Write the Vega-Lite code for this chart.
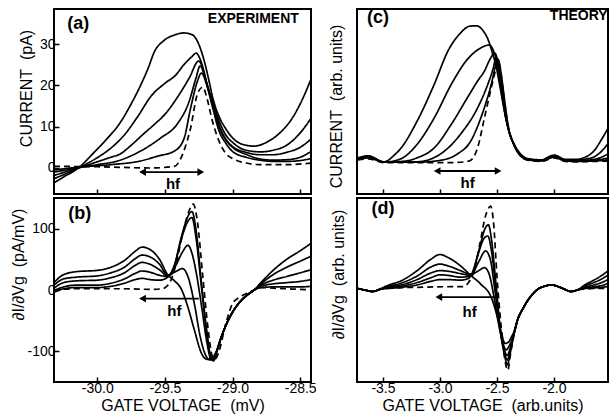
{
 "$schema": "https://vega.github.io/schema/vega-lite/v6.json",
 "background": "white",
 "padding": {"left": 8, "top": 7, "right": 0, "bottom": 2},
 "bounds": "flush",
 "columns": 2,
 "spacing": {"row": 4, "column": 46},
 "config": {
  "font": "Liberation Sans",
  "view": {"stroke": "black", "strokeWidth": 2},
  "axis": {"domain": false, "grid": false, "tickColor": "black", "tickSize": -5, "tickWidth": 1.5, "labelFont": "Liberation Sans", "labelFontSize": 14, "labelColor": "black", "labelPadding": 4, "titleFont": "Liberation Sans", "titleFontSize": 16, "titleFontWeight": "normal", "titleColor": "black", "titlePadding": 3}
 },
 "datasets": {
  "curves": [
   {"p":"a","c":"1","x":-30.32,"y":-3.6},{"p":"a","c":"1","x":-30.25,"y":-2.2},{"p":"a","c":"1","x":-30.14,"y":0},{"p":"a","c":"1","x":-30.02,"y":3.9},{"p":"a","c":"1","x":-29.93,"y":7},{"p":"a","c":"1","x":-29.83,"y":11},{"p":"a","c":"1","x":-29.75,"y":15.5},{"p":"a","c":"1","x":-29.68,"y":20},{"p":"a","c":"1","x":-29.62,"y":24.5},{"p":"a","c":"1","x":-29.58,"y":28},{"p":"a","c":"1","x":-29.51,"y":30.8},{"p":"a","c":"1","x":-29.43,"y":32.2},{"p":"a","c":"1","x":-29.36,"y":32.7},{"p":"a","c":"1","x":-29.3,"y":32.3},{"p":"a","c":"1","x":-29.25,"y":30},{"p":"a","c":"1","x":-29.21,"y":26},{"p":"a","c":"1","x":-29.17,"y":20.5},{"p":"a","c":"1","x":-29.15,"y":17.5},{"p":"a","c":"1","x":-29.1,"y":12.5},{"p":"a","c":"1","x":-29.05,"y":9.5},{"p":"a","c":"1","x":-29.0,"y":7.3},{"p":"a","c":"1","x":-28.9,"y":5.5},{"p":"a","c":"1","x":-28.84,"y":5.3},{"p":"a","c":"1","x":-28.75,"y":6.2},{"p":"a","c":"1","x":-28.65,"y":8.5},{"p":"a","c":"1","x":-28.56,"y":12},{"p":"a","c":"1","x":-28.5,"y":15.5},{"p":"a","c":"1","x":-28.42,"y":21.5},
   {"p":"a","c":"2","x":-30.32,"y":-2.6},{"p":"a","c":"2","x":-30.14,"y":0},{"p":"a","c":"2","x":-30.0,"y":2.5},{"p":"a","c":"2","x":-29.9,"y":4.8},{"p":"a","c":"2","x":-29.8,"y":8},{"p":"a","c":"2","x":-29.7,"y":12.5},{"p":"a","c":"2","x":-29.6,"y":17.5},{"p":"a","c":"2","x":-29.5,"y":20.5},{"p":"a","c":"2","x":-29.42,"y":22.5},{"p":"a","c":"2","x":-29.36,"y":25},{"p":"a","c":"2","x":-29.3,"y":27},{"p":"a","c":"2","x":-29.27,"y":27.8},{"p":"a","c":"2","x":-29.23,"y":25.5},{"p":"a","c":"2","x":-29.19,"y":20.5},{"p":"a","c":"2","x":-29.15,"y":16.5},{"p":"a","c":"2","x":-29.1,"y":11.5},{"p":"a","c":"2","x":-29.05,"y":8},{"p":"a","c":"2","x":-29.0,"y":6.2},{"p":"a","c":"2","x":-28.9,"y":4.3},{"p":"a","c":"2","x":-28.79,"y":3.9},{"p":"a","c":"2","x":-28.7,"y":4.3},{"p":"a","c":"2","x":-28.6,"y":5.5},{"p":"a","c":"2","x":-28.5,"y":8.5},{"p":"a","c":"2","x":-28.42,"y":12},
   {"p":"a","c":"3","x":-30.32,"y":-1.8},{"p":"a","c":"3","x":-30.14,"y":0},{"p":"a","c":"3","x":-30.0,"y":1.5},{"p":"a","c":"3","x":-29.9,"y":2.6},{"p":"a","c":"3","x":-29.83,"y":3.4},{"p":"a","c":"3","x":-29.75,"y":5.5},{"p":"a","c":"3","x":-29.66,"y":8.2},{"p":"a","c":"3","x":-29.58,"y":10.5},{"p":"a","c":"3","x":-29.5,"y":13},{"p":"a","c":"3","x":-29.41,"y":17},{"p":"a","c":"3","x":-29.32,"y":21.8},{"p":"a","c":"3","x":-29.25,"y":25.9},{"p":"a","c":"3","x":-29.21,"y":23},{"p":"a","c":"3","x":-29.18,"y":19},{"p":"a","c":"3","x":-29.15,"y":16},{"p":"a","c":"3","x":-29.1,"y":10.5},{"p":"a","c":"3","x":-29.05,"y":7},{"p":"a","c":"3","x":-29.0,"y":5.2},{"p":"a","c":"3","x":-28.9,"y":3.8},{"p":"a","c":"3","x":-28.8,"y":3.2},{"p":"a","c":"3","x":-28.7,"y":3.2},{"p":"a","c":"3","x":-28.6,"y":3.8},{"p":"a","c":"3","x":-28.5,"y":5},{"p":"a","c":"3","x":-28.42,"y":7},
   {"p":"a","c":"4","x":-30.32,"y":-1},{"p":"a","c":"4","x":-30.2,"y":-0.3},{"p":"a","c":"4","x":-30.1,"y":0.3},{"p":"a","c":"4","x":-30.0,"y":0.8},{"p":"a","c":"4","x":-29.85,"y":1.7},{"p":"a","c":"4","x":-29.68,"y":4.1},{"p":"a","c":"4","x":-29.53,"y":7.3},{"p":"a","c":"4","x":-29.41,"y":10.6},{"p":"a","c":"4","x":-29.32,"y":16.2},{"p":"a","c":"4","x":-29.27,"y":21.8},{"p":"a","c":"4","x":-29.24,"y":24.7},{"p":"a","c":"4","x":-29.2,"y":21.5},{"p":"a","c":"4","x":-29.15,"y":15.5},{"p":"a","c":"4","x":-29.1,"y":10},{"p":"a","c":"4","x":-29.05,"y":6.8},{"p":"a","c":"4","x":-29.0,"y":5},{"p":"a","c":"4","x":-28.9,"y":3.3},{"p":"a","c":"4","x":-28.8,"y":2.2},{"p":"a","c":"4","x":-28.7,"y":1.9},{"p":"a","c":"4","x":-28.6,"y":2},{"p":"a","c":"4","x":-28.5,"y":2.6},{"p":"a","c":"4","x":-28.42,"y":4},
   {"p":"a","c":"5","x":-30.32,"y":-0.5},{"p":"a","c":"5","x":-30.14,"y":0.2},{"p":"a","c":"5","x":-29.9,"y":0.8},{"p":"a","c":"5","x":-29.68,"y":1.7},{"p":"a","c":"5","x":-29.55,"y":2.9},{"p":"a","c":"5","x":-29.43,"y":4.1},{"p":"a","c":"5","x":-29.36,"y":7},{"p":"a","c":"5","x":-29.31,"y":14.5},{"p":"a","c":"5","x":-29.26,"y":21},{"p":"a","c":"5","x":-29.23,"y":23},{"p":"a","c":"5","x":-29.19,"y":20},{"p":"a","c":"5","x":-29.15,"y":15},{"p":"a","c":"5","x":-29.1,"y":9},{"p":"a","c":"5","x":-29.05,"y":6},{"p":"a","c":"5","x":-29.0,"y":4},{"p":"a","c":"5","x":-28.9,"y":2.6},{"p":"a","c":"5","x":-28.8,"y":1.9},{"p":"a","c":"5","x":-28.7,"y":1.6},{"p":"a","c":"5","x":-28.6,"y":1.6},{"p":"a","c":"5","x":-28.5,"y":1.8},{"p":"a","c":"5","x":-28.42,"y":2.3},
   {"p":"a","c":"0","x":-30.32,"y":0.4},{"p":"a","c":"0","x":-30.0,"y":0.3},{"p":"a","c":"0","x":-29.6,"y":0},{"p":"a","c":"0","x":-29.43,"y":0.4},{"p":"a","c":"0","x":-29.36,"y":4.1},{"p":"a","c":"0","x":-29.31,"y":9.7},{"p":"a","c":"0","x":-29.26,"y":17.9},{"p":"a","c":"0","x":-29.22,"y":19.6},{"p":"a","c":"0","x":-29.19,"y":17},{"p":"a","c":"0","x":-29.15,"y":11.5},{"p":"a","c":"0","x":-29.1,"y":6.5},{"p":"a","c":"0","x":-29.05,"y":3.5},{"p":"a","c":"0","x":-29.0,"y":2.3},{"p":"a","c":"0","x":-28.9,"y":1.2},{"p":"a","c":"0","x":-28.8,"y":0.8},{"p":"a","c":"0","x":-28.6,"y":0.8},{"p":"a","c":"0","x":-28.42,"y":1.2},

   {"p":"b","c":"1","x":-30.32,"y":12},{"p":"b","c":"1","x":-30.25,"y":25},{"p":"b","c":"1","x":-30.15,"y":30},{"p":"b","c":"1","x":-30.0,"y":32},{"p":"b","c":"1","x":-29.9,"y":37},{"p":"b","c":"1","x":-29.8,"y":48},{"p":"b","c":"1","x":-29.72,"y":63},{"p":"b","c":"1","x":-29.67,"y":70},{"p":"b","c":"1","x":-29.61,"y":66},{"p":"b","c":"1","x":-29.54,"y":50},{"p":"b","c":"1","x":-29.48,"y":25},{"p":"b","c":"1","x":-29.43,"y":15},{"p":"b","c":"1","x":-29.38,"y":2},{"p":"b","c":"1","x":-29.33,"y":-28},{"p":"b","c":"1","x":-29.28,"y":-67},{"p":"b","c":"1","x":-29.23,"y":-103},{"p":"b","c":"1","x":-29.19,"y":-113},{"p":"b","c":"1","x":-29.15,"y":-110},{"p":"b","c":"1","x":-29.12,"y":-100},{"p":"b","c":"1","x":-29.085,"y":-78},{"p":"b","c":"1","x":-29.05,"y":-58},{"p":"b","c":"1","x":-29.01,"y":-40},{"p":"b","c":"1","x":-28.94,"y":-18},{"p":"b","c":"1","x":-28.89,"y":-8},{"p":"b","c":"1","x":-28.84,"y":0},{"p":"b","c":"1","x":-28.79,"y":12},{"p":"b","c":"1","x":-28.7,"y":32},{"p":"b","c":"1","x":-28.6,"y":50},{"p":"b","c":"1","x":-28.5,"y":64},{"p":"b","c":"1","x":-28.42,"y":76},
   {"p":"b","c":"2","x":-30.32,"y":8},{"p":"b","c":"2","x":-30.25,"y":18},{"p":"b","c":"2","x":-30.15,"y":21},{"p":"b","c":"2","x":-30.0,"y":23},{"p":"b","c":"2","x":-29.9,"y":28},{"p":"b","c":"2","x":-29.8,"y":37},{"p":"b","c":"2","x":-29.72,"y":51},{"p":"b","c":"2","x":-29.67,"y":57},{"p":"b","c":"2","x":-29.61,"y":54},{"p":"b","c":"2","x":-29.54,"y":42},{"p":"b","c":"2","x":-29.48,"y":24},{"p":"b","c":"2","x":-29.42,"y":30},{"p":"b","c":"2","x":-29.37,"y":35},{"p":"b","c":"2","x":-29.33,"y":22},{"p":"b","c":"2","x":-29.28,"y":-25},{"p":"b","c":"2","x":-29.24,"y":-75},{"p":"b","c":"2","x":-29.2,"y":-106},{"p":"b","c":"2","x":-29.17,"y":-114},{"p":"b","c":"2","x":-29.14,"y":-112},{"p":"b","c":"2","x":-29.12,"y":-101},{"p":"b","c":"2","x":-29.085,"y":-78},{"p":"b","c":"2","x":-29.05,"y":-58},{"p":"b","c":"2","x":-29.01,"y":-40},{"p":"b","c":"2","x":-28.94,"y":-18},{"p":"b","c":"2","x":-28.89,"y":-8},{"p":"b","c":"2","x":-28.84,"y":0},{"p":"b","c":"2","x":-28.79,"y":10},{"p":"b","c":"2","x":-28.7,"y":25},{"p":"b","c":"2","x":-28.6,"y":37},{"p":"b","c":"2","x":-28.5,"y":47},{"p":"b","c":"2","x":-28.42,"y":55},
   {"p":"b","c":"3","x":-30.32,"y":3},{"p":"b","c":"3","x":-30.25,"y":12},{"p":"b","c":"3","x":-30.15,"y":15},{"p":"b","c":"3","x":-30.0,"y":16},{"p":"b","c":"3","x":-29.9,"y":20},{"p":"b","c":"3","x":-29.8,"y":28},{"p":"b","c":"3","x":-29.72,"y":40},{"p":"b","c":"3","x":-29.67,"y":45},{"p":"b","c":"3","x":-29.61,"y":42},{"p":"b","c":"3","x":-29.54,"y":33},{"p":"b","c":"3","x":-29.48,"y":23},{"p":"b","c":"3","x":-29.42,"y":40},{"p":"b","c":"3","x":-29.37,"y":62},{"p":"b","c":"3","x":-29.33,"y":73},{"p":"b","c":"3","x":-29.3,"y":60},{"p":"b","c":"3","x":-29.27,"y":30},{"p":"b","c":"3","x":-29.23,"y":-25},{"p":"b","c":"3","x":-29.19,"y":-85},{"p":"b","c":"3","x":-29.16,"y":-113},{"p":"b","c":"3","x":-29.14,"y":-115},{"p":"b","c":"3","x":-29.12,"y":-102},{"p":"b","c":"3","x":-29.085,"y":-78},{"p":"b","c":"3","x":-29.05,"y":-58},{"p":"b","c":"3","x":-29.01,"y":-40},{"p":"b","c":"3","x":-28.94,"y":-18},{"p":"b","c":"3","x":-28.89,"y":-8},{"p":"b","c":"3","x":-28.84,"y":0},{"p":"b","c":"3","x":-28.79,"y":8},{"p":"b","c":"3","x":-28.7,"y":16},{"p":"b","c":"3","x":-28.6,"y":22},{"p":"b","c":"3","x":-28.5,"y":28},{"p":"b","c":"3","x":-28.42,"y":33},
   {"p":"b","c":"4","x":-30.32,"y":-1},{"p":"b","c":"4","x":-30.25,"y":5},{"p":"b","c":"4","x":-30.15,"y":8},{"p":"b","c":"4","x":-30.0,"y":8},{"p":"b","c":"4","x":-29.9,"y":11},{"p":"b","c":"4","x":-29.8,"y":18},{"p":"b","c":"4","x":-29.72,"y":27},{"p":"b","c":"4","x":-29.67,"y":31},{"p":"b","c":"4","x":-29.61,"y":29},{"p":"b","c":"4","x":-29.54,"y":24},{"p":"b","c":"4","x":-29.48,"y":22},{"p":"b","c":"4","x":-29.43,"y":40},{"p":"b","c":"4","x":-29.38,"y":82},{"p":"b","c":"4","x":-29.33,"y":112},{"p":"b","c":"4","x":-29.3,"y":118},{"p":"b","c":"4","x":-29.27,"y":85},{"p":"b","c":"4","x":-29.23,"y":5},{"p":"b","c":"4","x":-29.19,"y":-72},{"p":"b","c":"4","x":-29.16,"y":-110},{"p":"b","c":"4","x":-29.14,"y":-115},{"p":"b","c":"4","x":-29.12,"y":-103},{"p":"b","c":"4","x":-29.085,"y":-78},{"p":"b","c":"4","x":-29.05,"y":-58},{"p":"b","c":"4","x":-29.01,"y":-40},{"p":"b","c":"4","x":-28.94,"y":-18},{"p":"b","c":"4","x":-28.89,"y":-8},{"p":"b","c":"4","x":-28.84,"y":0},{"p":"b","c":"4","x":-28.79,"y":6},{"p":"b","c":"4","x":-28.7,"y":10},{"p":"b","c":"4","x":-28.6,"y":12},{"p":"b","c":"4","x":-28.5,"y":14},{"p":"b","c":"4","x":-28.42,"y":17},
   {"p":"b","c":"5","x":-30.32,"y":-4},{"p":"b","c":"5","x":-30.25,"y":2},{"p":"b","c":"5","x":-30.15,"y":4},{"p":"b","c":"5","x":-30.0,"y":4},{"p":"b","c":"5","x":-29.9,"y":6},{"p":"b","c":"5","x":-29.8,"y":11},{"p":"b","c":"5","x":-29.72,"y":17},{"p":"b","c":"5","x":-29.67,"y":19},{"p":"b","c":"5","x":-29.61,"y":17},{"p":"b","c":"5","x":-29.54,"y":16},{"p":"b","c":"5","x":-29.48,"y":21},{"p":"b","c":"5","x":-29.43,"y":40},{"p":"b","c":"5","x":-29.38,"y":85},{"p":"b","c":"5","x":-29.33,"y":120},{"p":"b","c":"5","x":-29.3,"y":128},{"p":"b","c":"5","x":-29.27,"y":98},{"p":"b","c":"5","x":-29.23,"y":12},{"p":"b","c":"5","x":-29.19,"y":-68},{"p":"b","c":"5","x":-29.16,"y":-110},{"p":"b","c":"5","x":-29.14,"y":-115},{"p":"b","c":"5","x":-29.12,"y":-103},{"p":"b","c":"5","x":-29.085,"y":-78},{"p":"b","c":"5","x":-29.05,"y":-58},{"p":"b","c":"5","x":-29.01,"y":-40},{"p":"b","c":"5","x":-28.94,"y":-18},{"p":"b","c":"5","x":-28.89,"y":-8},{"p":"b","c":"5","x":-28.84,"y":0},{"p":"b","c":"5","x":-28.79,"y":4},{"p":"b","c":"5","x":-28.7,"y":5},{"p":"b","c":"5","x":-28.6,"y":5},{"p":"b","c":"5","x":-28.5,"y":5},{"p":"b","c":"5","x":-28.42,"y":6},
   {"p":"b","c":"0","x":-30.32,"y":-2},{"p":"b","c":"0","x":-30.2,"y":2},{"p":"b","c":"0","x":-30.0,"y":2},{"p":"b","c":"0","x":-29.8,"y":2},{"p":"b","c":"0","x":-29.6,"y":1},{"p":"b","c":"0","x":-29.52,"y":2},{"p":"b","c":"0","x":-29.47,"y":10},{"p":"b","c":"0","x":-29.42,"y":40},{"p":"b","c":"0","x":-29.37,"y":90},{"p":"b","c":"0","x":-29.32,"y":130},{"p":"b","c":"0","x":-29.29,"y":140},{"p":"b","c":"0","x":-29.26,"y":112},{"p":"b","c":"0","x":-29.22,"y":22},{"p":"b","c":"0","x":-29.18,"y":-65},{"p":"b","c":"0","x":-29.15,"y":-108},{"p":"b","c":"0","x":-29.13,"y":-113},{"p":"b","c":"0","x":-29.1,"y":-100},{"p":"b","c":"0","x":-29.05,"y":-55},{"p":"b","c":"0","x":-29.0,"y":-22},{"p":"b","c":"0","x":-28.95,"y":-12},{"p":"b","c":"0","x":-28.89,"y":-5},{"p":"b","c":"0","x":-28.84,"y":0},{"p":"b","c":"0","x":-28.79,"y":4},{"p":"b","c":"0","x":-28.7,"y":3},{"p":"b","c":"0","x":-28.6,"y":2},{"p":"b","c":"0","x":-28.5,"y":1},{"p":"b","c":"0","x":-28.42,"y":0.5},

   {"p":"c","c":"1","x":-3.72,"y":0.8},{"p":"c","c":"1","x":-3.63,"y":1.3},{"p":"c","c":"1","x":-3.49,"y":-0.2},{"p":"c","c":"1","x":-3.4,"y":1.5},{"p":"c","c":"1","x":-3.34,"y":3.3},{"p":"c","c":"1","x":-3.2,"y":10},{"p":"c","c":"1","x":-3.05,"y":19.2},{"p":"c","c":"1","x":-2.93,"y":27.5},{"p":"c","c":"1","x":-2.82,"y":32},{"p":"c","c":"1","x":-2.74,"y":33.7},{"p":"c","c":"1","x":-2.68,"y":33.8},{"p":"c","c":"1","x":-2.62,"y":32.5},{"p":"c","c":"1","x":-2.58,"y":30.5},{"p":"c","c":"1","x":-2.54,"y":27},{"p":"c","c":"1","x":-2.51,"y":24},{"p":"c","c":"1","x":-2.47,"y":18},{"p":"c","c":"1","x":-2.44,"y":13.3},{"p":"c","c":"1","x":-2.4,"y":8},{"p":"c","c":"1","x":-2.35,"y":4.2},{"p":"c","c":"1","x":-2.3,"y":2},{"p":"c","c":"1","x":-2.23,"y":0.6},{"p":"c","c":"1","x":-2.11,"y":0.3},{"p":"c","c":"1","x":-2.0,"y":1.5},{"p":"c","c":"1","x":-1.9,"y":0.4},{"p":"c","c":"1","x":-1.8,"y":0.4},{"p":"c","c":"1","x":-1.74,"y":0.8},{"p":"c","c":"1","x":-1.65,"y":2.5},{"p":"c","c":"1","x":-1.58,"y":5.5},{"p":"c","c":"1","x":-1.51,"y":9},
   {"p":"c","c":"2","x":-3.72,"y":0.7},{"p":"c","c":"2","x":-3.63,"y":1.1},{"p":"c","c":"2","x":-3.49,"y":-0.3},{"p":"c","c":"2","x":-3.34,"y":0.6},{"p":"c","c":"2","x":-3.2,"y":4.2},{"p":"c","c":"2","x":-3.05,"y":10.8},{"p":"c","c":"2","x":-2.9,"y":19.2},{"p":"c","c":"2","x":-2.76,"y":25.4},{"p":"c","c":"2","x":-2.64,"y":28.3},{"p":"c","c":"2","x":-2.57,"y":29},{"p":"c","c":"2","x":-2.53,"y":27.5},{"p":"c","c":"2","x":-2.5,"y":24.5},{"p":"c","c":"2","x":-2.47,"y":19},{"p":"c","c":"2","x":-2.44,"y":13.5},{"p":"c","c":"2","x":-2.4,"y":8},{"p":"c","c":"2","x":-2.35,"y":4.2},{"p":"c","c":"2","x":-2.3,"y":1.8},{"p":"c","c":"2","x":-2.23,"y":0.5},{"p":"c","c":"2","x":-2.11,"y":0.2},{"p":"c","c":"2","x":-2.0,"y":1.2},{"p":"c","c":"2","x":-1.9,"y":0.3},{"p":"c","c":"2","x":-1.8,"y":0.2},{"p":"c","c":"2","x":-1.72,"y":0.5},{"p":"c","c":"2","x":-1.65,"y":1},{"p":"c","c":"2","x":-1.58,"y":2.5},{"p":"c","c":"2","x":-1.51,"y":5},
   {"p":"c","c":"3","x":-3.72,"y":0.6},{"p":"c","c":"3","x":-3.63,"y":1},{"p":"c","c":"3","x":-3.49,"y":-0.3},{"p":"c","c":"3","x":-3.3,"y":0},{"p":"c","c":"3","x":-3.2,"y":0.8},{"p":"c","c":"3","x":-3.05,"y":3.3},{"p":"c","c":"3","x":-2.9,"y":9.2},{"p":"c","c":"3","x":-2.76,"y":15.8},{"p":"c","c":"3","x":-2.67,"y":20},{"p":"c","c":"3","x":-2.61,"y":22.5},{"p":"c","c":"3","x":-2.56,"y":25.5},{"p":"c","c":"3","x":-2.52,"y":27},{"p":"c","c":"3","x":-2.49,"y":24.5},{"p":"c","c":"3","x":-2.46,"y":19.5},{"p":"c","c":"3","x":-2.44,"y":14},{"p":"c","c":"3","x":-2.4,"y":8},{"p":"c","c":"3","x":-2.35,"y":4},{"p":"c","c":"3","x":-2.3,"y":1.7},{"p":"c","c":"3","x":-2.23,"y":0.4},{"p":"c","c":"3","x":-2.11,"y":0.2},{"p":"c","c":"3","x":-2.0,"y":1.1},{"p":"c","c":"3","x":-1.9,"y":0.2},{"p":"c","c":"3","x":-1.8,"y":0.1},{"p":"c","c":"3","x":-1.65,"y":0.4},{"p":"c","c":"3","x":-1.58,"y":1},{"p":"c","c":"3","x":-1.51,"y":2},
   {"p":"c","c":"4","x":-3.72,"y":0.5},{"p":"c","c":"4","x":-3.63,"y":0.9},{"p":"c","c":"4","x":-3.49,"y":-0.3},{"p":"c","c":"4","x":-3.2,"y":-0.2},{"p":"c","c":"4","x":-3.11,"y":0.2},{"p":"c","c":"4","x":-2.96,"y":2.5},{"p":"c","c":"4","x":-2.82,"y":6.7},{"p":"c","c":"4","x":-2.67,"y":13.3},{"p":"c","c":"4","x":-2.58,"y":19.2},{"p":"c","c":"4","x":-2.53,"y":23.5},{"p":"c","c":"4","x":-2.51,"y":25.8},{"p":"c","c":"4","x":-2.48,"y":23.5},{"p":"c","c":"4","x":-2.46,"y":19.5},{"p":"c","c":"4","x":-2.44,"y":14.5},{"p":"c","c":"4","x":-2.4,"y":8},{"p":"c","c":"4","x":-2.35,"y":4},{"p":"c","c":"4","x":-2.3,"y":1.6},{"p":"c","c":"4","x":-2.23,"y":0.3},{"p":"c","c":"4","x":-2.11,"y":0.1},{"p":"c","c":"4","x":-2.0,"y":1},{"p":"c","c":"4","x":-1.9,"y":0.1},{"p":"c","c":"4","x":-1.8,"y":0},{"p":"c","c":"4","x":-1.65,"y":0.2},{"p":"c","c":"4","x":-1.51,"y":0.8},
   {"p":"c","c":"5","x":-3.72,"y":0.4},{"p":"c","c":"5","x":-3.63,"y":0.8},{"p":"c","c":"5","x":-3.49,"y":-0.3},{"p":"c","c":"5","x":-3.2,"y":-0.3},{"p":"c","c":"5","x":-2.99,"y":0.2},{"p":"c","c":"5","x":-2.85,"y":1.7},{"p":"c","c":"5","x":-2.73,"y":5},{"p":"c","c":"5","x":-2.63,"y":11.7},{"p":"c","c":"5","x":-2.55,"y":19.2},{"p":"c","c":"5","x":-2.51,"y":24},{"p":"c","c":"5","x":-2.49,"y":25.4},{"p":"c","c":"5","x":-2.47,"y":23},{"p":"c","c":"5","x":-2.45,"y":19},{"p":"c","c":"5","x":-2.43,"y":14.5},{"p":"c","c":"5","x":-2.4,"y":8.5},{"p":"c","c":"5","x":-2.35,"y":4},{"p":"c","c":"5","x":-2.3,"y":1.5},{"p":"c","c":"5","x":-2.23,"y":0.3},{"p":"c","c":"5","x":-2.11,"y":0},{"p":"c","c":"5","x":-2.0,"y":1},{"p":"c","c":"5","x":-1.9,"y":0},{"p":"c","c":"5","x":-1.8,"y":-0.1},{"p":"c","c":"5","x":-1.65,"y":0},{"p":"c","c":"5","x":-1.51,"y":0.3},
   {"p":"c","c":"0","x":-3.72,"y":0.3},{"p":"c","c":"0","x":-3.63,"y":0.5},{"p":"c","c":"0","x":-3.49,"y":-0.4},{"p":"c","c":"0","x":-3.2,"y":-0.4},{"p":"c","c":"0","x":-2.9,"y":-0.4},{"p":"c","c":"0","x":-2.78,"y":-0.2},{"p":"c","c":"0","x":-2.73,"y":0.2},{"p":"c","c":"0","x":-2.67,"y":3.3},{"p":"c","c":"0","x":-2.61,"y":10.8},{"p":"c","c":"0","x":-2.55,"y":18.3},{"p":"c","c":"0","x":-2.51,"y":23},{"p":"c","c":"0","x":-2.49,"y":25},{"p":"c","c":"0","x":-2.47,"y":23},{"p":"c","c":"0","x":-2.45,"y":18.5},{"p":"c","c":"0","x":-2.43,"y":14},{"p":"c","c":"0","x":-2.4,"y":8.5},{"p":"c","c":"0","x":-2.35,"y":4},{"p":"c","c":"0","x":-2.3,"y":1.5},{"p":"c","c":"0","x":-2.23,"y":0.2},{"p":"c","c":"0","x":-2.11,"y":-0.1},{"p":"c","c":"0","x":-2.0,"y":0.8},{"p":"c","c":"0","x":-1.9,"y":-0.1},{"p":"c","c":"0","x":-1.8,"y":-0.2},{"p":"c","c":"0","x":-1.65,"y":-0.1},{"p":"c","c":"0","x":-1.51,"y":0},

   {"p":"d","c":"1","x":-3.72,"y":0},{"p":"d","c":"1","x":-3.65,"y":-3},{"p":"d","c":"1","x":-3.59,"y":-5},{"p":"d","c":"1","x":-3.52,"y":0},{"p":"d","c":"1","x":-3.46,"y":5},{"p":"d","c":"1","x":-3.34,"y":13},{"p":"d","c":"1","x":-3.2,"y":30},{"p":"d","c":"1","x":-3.08,"y":49},{"p":"d","c":"1","x":-3.0,"y":57},{"p":"d","c":"1","x":-2.93,"y":52},{"p":"d","c":"1","x":-2.82,"y":38},{"p":"d","c":"1","x":-2.73,"y":22},{"p":"d","c":"1","x":-2.64,"y":7},{"p":"d","c":"1","x":-2.55,"y":-15},{"p":"d","c":"1","x":-2.5,"y":-45},{"p":"d","c":"1","x":-2.46,"y":-75},{"p":"d","c":"1","x":-2.43,"y":-92},{"p":"d","c":"1","x":-2.4,"y":-90},{"p":"d","c":"1","x":-2.37,"y":-80},{"p":"d","c":"1","x":-2.35,"y":-72},{"p":"d","c":"1","x":-2.32,"y":-53},{"p":"d","c":"1","x":-2.27,"y":-33},{"p":"d","c":"1","x":-2.23,"y":-20},{"p":"d","c":"1","x":-2.18,"y":-8},{"p":"d","c":"1","x":-2.14,"y":-1},{"p":"d","c":"1","x":-2.08,"y":4},{"p":"d","c":"1","x":-2.02,"y":6},{"p":"d","c":"1","x":-1.96,"y":3},{"p":"d","c":"1","x":-1.91,"y":-1},{"p":"d","c":"1","x":-1.85,"y":-5},{"p":"d","c":"1","x":-1.79,"y":-2},{"p":"d","c":"1","x":-1.73,"y":6},{"p":"d","c":"1","x":-1.65,"y":14},{"p":"d","c":"1","x":-1.58,"y":22},{"p":"d","c":"1","x":-1.51,"y":32},
   {"p":"d","c":"2","x":-3.72,"y":0},{"p":"d","c":"2","x":-3.65,"y":-3},{"p":"d","c":"2","x":-3.59,"y":-5},{"p":"d","c":"2","x":-3.52,"y":-1},{"p":"d","c":"2","x":-3.46,"y":3},{"p":"d","c":"2","x":-3.34,"y":9},{"p":"d","c":"2","x":-3.2,"y":21},{"p":"d","c":"2","x":-3.08,"y":36},{"p":"d","c":"2","x":-3.0,"y":41},{"p":"d","c":"2","x":-2.93,"y":38},{"p":"d","c":"2","x":-2.82,"y":30},{"p":"d","c":"2","x":-2.73,"y":24},{"p":"d","c":"2","x":-2.66,"y":30},{"p":"d","c":"2","x":-2.61,"y":35},{"p":"d","c":"2","x":-2.57,"y":25},{"p":"d","c":"2","x":-2.53,"y":-10},{"p":"d","c":"2","x":-2.49,"y":-55},{"p":"d","c":"2","x":-2.45,"y":-90},{"p":"d","c":"2","x":-2.42,"y":-103},{"p":"d","c":"2","x":-2.39,"y":-95},{"p":"d","c":"2","x":-2.35,"y":-75},{"p":"d","c":"2","x":-2.32,"y":-53},{"p":"d","c":"2","x":-2.27,"y":-33},{"p":"d","c":"2","x":-2.23,"y":-20},{"p":"d","c":"2","x":-2.18,"y":-8},{"p":"d","c":"2","x":-2.14,"y":-1},{"p":"d","c":"2","x":-2.08,"y":4},{"p":"d","c":"2","x":-2.02,"y":6},{"p":"d","c":"2","x":-1.96,"y":3},{"p":"d","c":"2","x":-1.91,"y":-1},{"p":"d","c":"2","x":-1.85,"y":-5},{"p":"d","c":"2","x":-1.79,"y":-2},{"p":"d","c":"2","x":-1.73,"y":4},{"p":"d","c":"2","x":-1.65,"y":10},{"p":"d","c":"2","x":-1.58,"y":16},{"p":"d","c":"2","x":-1.51,"y":25},
   {"p":"d","c":"3","x":-3.72,"y":0},{"p":"d","c":"3","x":-3.65,"y":-3},{"p":"d","c":"3","x":-3.59,"y":-5},{"p":"d","c":"3","x":-3.52,"y":-1},{"p":"d","c":"3","x":-3.46,"y":2},{"p":"d","c":"3","x":-3.34,"y":6},{"p":"d","c":"3","x":-3.2,"y":15},{"p":"d","c":"3","x":-3.08,"y":26},{"p":"d","c":"3","x":-3.0,"y":30},{"p":"d","c":"3","x":-2.93,"y":29},{"p":"d","c":"3","x":-2.82,"y":25},{"p":"d","c":"3","x":-2.73,"y":22},{"p":"d","c":"3","x":-2.66,"y":45},{"p":"d","c":"3","x":-2.6,"y":63},{"p":"d","c":"3","x":-2.56,"y":50},{"p":"d","c":"3","x":-2.52,"y":0},{"p":"d","c":"3","x":-2.48,"y":-60},{"p":"d","c":"3","x":-2.44,"y":-100},{"p":"d","c":"3","x":-2.41,"y":-112},{"p":"d","c":"3","x":-2.38,"y":-97},{"p":"d","c":"3","x":-2.35,"y":-75},{"p":"d","c":"3","x":-2.32,"y":-53},{"p":"d","c":"3","x":-2.27,"y":-33},{"p":"d","c":"3","x":-2.23,"y":-20},{"p":"d","c":"3","x":-2.18,"y":-8},{"p":"d","c":"3","x":-2.14,"y":-1},{"p":"d","c":"3","x":-2.08,"y":4},{"p":"d","c":"3","x":-2.02,"y":6},{"p":"d","c":"3","x":-1.96,"y":3},{"p":"d","c":"3","x":-1.91,"y":-1},{"p":"d","c":"3","x":-1.85,"y":-5},{"p":"d","c":"3","x":-1.79,"y":-2},{"p":"d","c":"3","x":-1.73,"y":2},{"p":"d","c":"3","x":-1.65,"y":6},{"p":"d","c":"3","x":-1.58,"y":10},{"p":"d","c":"3","x":-1.51,"y":17},
   {"p":"d","c":"4","x":-3.72,"y":0},{"p":"d","c":"4","x":-3.65,"y":-3},{"p":"d","c":"4","x":-3.59,"y":-5},{"p":"d","c":"4","x":-3.52,"y":-1},{"p":"d","c":"4","x":-3.46,"y":1},{"p":"d","c":"4","x":-3.34,"y":4},{"p":"d","c":"4","x":-3.2,"y":10},{"p":"d","c":"4","x":-3.08,"y":18},{"p":"d","c":"4","x":-3.0,"y":23},{"p":"d","c":"4","x":-2.93,"y":22},{"p":"d","c":"4","x":-2.82,"y":19},{"p":"d","c":"4","x":-2.73,"y":21},{"p":"d","c":"4","x":-2.67,"y":55},{"p":"d","c":"4","x":-2.61,"y":85},{"p":"d","c":"4","x":-2.58,"y":88},{"p":"d","c":"4","x":-2.55,"y":65},{"p":"d","c":"4","x":-2.51,"y":0},{"p":"d","c":"4","x":-2.47,"y":-70},{"p":"d","c":"4","x":-2.43,"y":-110},{"p":"d","c":"4","x":-2.41,"y":-120},{"p":"d","c":"4","x":-2.38,"y":-100},{"p":"d","c":"4","x":-2.35,"y":-75},{"p":"d","c":"4","x":-2.32,"y":-53},{"p":"d","c":"4","x":-2.27,"y":-33},{"p":"d","c":"4","x":-2.23,"y":-20},{"p":"d","c":"4","x":-2.18,"y":-8},{"p":"d","c":"4","x":-2.14,"y":-1},{"p":"d","c":"4","x":-2.08,"y":4},{"p":"d","c":"4","x":-2.02,"y":6},{"p":"d","c":"4","x":-1.96,"y":3},{"p":"d","c":"4","x":-1.91,"y":-1},{"p":"d","c":"4","x":-1.85,"y":-5},{"p":"d","c":"4","x":-1.79,"y":-2},{"p":"d","c":"4","x":-1.73,"y":1},{"p":"d","c":"4","x":-1.65,"y":3},{"p":"d","c":"4","x":-1.58,"y":5},{"p":"d","c":"4","x":-1.51,"y":10},
   {"p":"d","c":"5","x":-3.72,"y":0},{"p":"d","c":"5","x":-3.65,"y":-3},{"p":"d","c":"5","x":-3.59,"y":-5},{"p":"d","c":"5","x":-3.52,"y":-1},{"p":"d","c":"5","x":-3.46,"y":0},{"p":"d","c":"5","x":-3.34,"y":2},{"p":"d","c":"5","x":-3.2,"y":6},{"p":"d","c":"5","x":-3.08,"y":12},{"p":"d","c":"5","x":-3.0,"y":15},{"p":"d","c":"5","x":-2.93,"y":15},{"p":"d","c":"5","x":-2.82,"y":14},{"p":"d","c":"5","x":-2.75,"y":17},{"p":"d","c":"5","x":-2.7,"y":35},{"p":"d","c":"5","x":-2.65,"y":70},{"p":"d","c":"5","x":-2.61,"y":98},{"p":"d","c":"5","x":-2.575,"y":107},{"p":"d","c":"5","x":-2.55,"y":85},{"p":"d","c":"5","x":-2.51,"y":10},{"p":"d","c":"5","x":-2.47,"y":-70},{"p":"d","c":"5","x":-2.43,"y":-115},{"p":"d","c":"5","x":-2.41,"y":-128},{"p":"d","c":"5","x":-2.38,"y":-105},{"p":"d","c":"5","x":-2.35,"y":-76},{"p":"d","c":"5","x":-2.32,"y":-53},{"p":"d","c":"5","x":-2.27,"y":-33},{"p":"d","c":"5","x":-2.23,"y":-20},{"p":"d","c":"5","x":-2.18,"y":-8},{"p":"d","c":"5","x":-2.14,"y":-1},{"p":"d","c":"5","x":-2.08,"y":4},{"p":"d","c":"5","x":-2.02,"y":6},{"p":"d","c":"5","x":-1.96,"y":3},{"p":"d","c":"5","x":-1.91,"y":-1},{"p":"d","c":"5","x":-1.85,"y":-5},{"p":"d","c":"5","x":-1.79,"y":-2},{"p":"d","c":"5","x":-1.73,"y":0},{"p":"d","c":"5","x":-1.65,"y":1},{"p":"d","c":"5","x":-1.58,"y":2},{"p":"d","c":"5","x":-1.51,"y":4},
   {"p":"d","c":"0","x":-3.72,"y":0},{"p":"d","c":"0","x":-3.65,"y":-3},{"p":"d","c":"0","x":-3.59,"y":-5},{"p":"d","c":"0","x":-3.52,"y":-1},{"p":"d","c":"0","x":-3.4,"y":1},{"p":"d","c":"0","x":-3.2,"y":2},{"p":"d","c":"0","x":-2.9,"y":3},{"p":"d","c":"0","x":-2.8,"y":3},{"p":"d","c":"0","x":-2.75,"y":10},{"p":"d","c":"0","x":-2.7,"y":30},{"p":"d","c":"0","x":-2.65,"y":75},{"p":"d","c":"0","x":-2.6,"y":122},{"p":"d","c":"0","x":-2.555,"y":138},{"p":"d","c":"0","x":-2.53,"y":110},{"p":"d","c":"0","x":-2.5,"y":20},{"p":"d","c":"0","x":-2.46,"y":-70},{"p":"d","c":"0","x":-2.43,"y":-120},{"p":"d","c":"0","x":-2.405,"y":-137},{"p":"d","c":"0","x":-2.38,"y":-108},{"p":"d","c":"0","x":-2.35,"y":-77},{"p":"d","c":"0","x":-2.32,"y":-53},{"p":"d","c":"0","x":-2.27,"y":-33},{"p":"d","c":"0","x":-2.23,"y":-20},{"p":"d","c":"0","x":-2.18,"y":-8},{"p":"d","c":"0","x":-2.14,"y":-1},{"p":"d","c":"0","x":-2.08,"y":4},{"p":"d","c":"0","x":-2.02,"y":6},{"p":"d","c":"0","x":-1.96,"y":3},{"p":"d","c":"0","x":-1.91,"y":-1},{"p":"d","c":"0","x":-1.85,"y":-5},{"p":"d","c":"0","x":-1.79,"y":-2},{"p":"d","c":"0","x":-1.73,"y":-1},{"p":"d","c":"0","x":-1.65,"y":0},{"p":"d","c":"0","x":-1.58,"y":0},{"p":"d","c":"0","x":-1.51,"y":0.5}
  ],
  "notes": [
   {"p":"a","k":"arrow","x":-29.68,"x2":-29.22,"y":-1.0},
   {"p":"a","k":"head","x":-29.665,"y":-1.0,"dir":"L"},
   {"p":"a","k":"head","x":-29.235,"y":-1.0,"dir":"R"},
   {"p":"a","k":"panel","x":-30.14,"y":34.9,"txt":"(a)"},
   {"p":"a","k":"tag","x":-28.51,"y":36.1,"txt":"EXPERIMENT"},
   {"p":"a","k":"hf","x":-29.44,"y":-3.9,"txt":"hf"},
   {"p":"b","k":"arrow","x":-29.68,"x2":-29.25,"y":-14},
   {"p":"b","k":"head","x":-29.665,"y":-14,"dir":"L"},
   {"p":"b","k":"panel","x":-30.13,"y":123.6,"txt":"(b)"},
   {"p":"b","k":"hf","x":-29.43,"y":-34,"txt":"hf"},
   {"p":"c","k":"arrow","x":-3.035,"x2":-2.48,"y":-2.5},
   {"p":"c","k":"head","x":-3.025,"y":-2.5,"dir":"L"},
   {"p":"c","k":"head","x":-2.49,"y":-2.5,"dir":"R"},
   {"p":"c","k":"panel","x":-3.544,"y":35.75,"txt":"(c)"},
   {"p":"c","k":"tag","x":-1.529,"y":36.25,"txt":"THEORY"},
   {"p":"c","k":"hf","x":-2.757,"y":-5.4,"txt":"hf"},
   {"p":"d","k":"arrow","x":-3.02,"x2":-2.52,"y":-14.4},
   {"p":"d","k":"head","x":-3.01,"y":-14.4,"dir":"L"},
   {"p":"d","k":"panel","x":-3.5,"y":133,"txt":"(d)"},
   {"p":"d","k":"hf","x":-2.74,"y":-39.5,"txt":"hf"}
  ]
 },
 "concat": [
  {
   "width": 257, "height": 185,
   "encoding": {
    "x": {"field": "x", "type": "quantitative", "scale": {"domain": [-30.32, -28.42], "nice": false, "zero": false}, "axis": {"values": [-30, -29.5, -29, -28.5], "labels": false, "title": null}},
    "y": {"field": "y", "type": "quantitative", "scale": {"domain": [-6.3, 38.5], "nice": false, "zero": false}, "axis": {"values": [0, 10, 20, 30], "title": "CURRENT\u00a0\u00a0(pA)", "titleX": -28, "titleY": 79, "titleBaseline": "middle"}}
   },
   "layer": [
    {"data": {"name": "curves"}, "transform": [{"filter": "datum.p === 'a'"}], "mark": {"type": "line", "interpolate": "monotone", "clip": true, "color": "black", "strokeWidth": 1.7},
     "encoding": {"strokeDash": {"field": "c", "type": "nominal", "scale": {"domain": ["0","1","2","3","4","5"], "range": [[6,4],[1,0],[1,0],[1,0],[1,0],[1,0]]}, "legend": null}}},
    {"data": {"name": "notes"}, "transform": [{"filter": "datum.p === 'a' && datum.k === 'arrow'"}], "mark": {"type": "rule", "color": "black", "strokeWidth": 1.8}, "encoding": {"x2": {"field": "x2"}}},
    {"data": {"name": "notes"}, "transform": [{"filter": "datum.p === 'a' && datum.k === 'head'"}], "mark": {"type": "point", "filled": true, "color": "black", "opacity": 1, "size": 60},
     "encoding": {"shape": {"field": "dir", "type": "nominal", "scale": {"domain": ["L","R"], "range": ["triangle-left","triangle-right"]}, "legend": null}}},
    {"data": {"name": "notes"}, "transform": [{"filter": "datum.p === 'a' && datum.k === 'panel'"}], "mark": {"type": "text", "font": "Liberation Sans", "fontWeight": "bold", "fontSize": 18, "color": "black"}, "encoding": {"text": {"field": "txt"}}},
    {"data": {"name": "notes"}, "transform": [{"filter": "datum.p === 'a' && datum.k === 'tag'"}], "mark": {"type": "text", "font": "Liberation Sans", "fontWeight": "bold", "fontSize": 14, "align": "right", "color": "black"}, "encoding": {"text": {"field": "txt"}}},
    {"data": {"name": "notes"}, "transform": [{"filter": "datum.p === 'a' && datum.k === 'hf'"}], "mark": {"type": "text", "font": "Liberation Sans", "fontWeight": "bold", "fontSize": 15, "color": "black"}, "encoding": {"text": {"field": "txt"}}}
   ]
  },
  {
   "width": 251, "height": 185,
   "encoding": {
    "x": {"field": "x", "type": "quantitative", "scale": {"domain": [-3.728, -1.526], "nice": false, "zero": false}, "axis": {"values": [-3.5, -3, -2.5, -2], "labels": false, "title": null}},
    "y": {"field": "y", "type": "quantitative", "scale": {"domain": [-8.25, 38], "nice": false, "zero": false}, "axis": {"ticks": false, "labels": false, "title": "CURRENT\u00a0\u00a0(arb. units)", "titleX": -21, "titleY": 97, "titleBaseline": "middle"}}
   },
   "layer": [
    {"data": {"name": "curves"}, "transform": [{"filter": "datum.p === 'c'"}], "mark": {"type": "line", "interpolate": "monotone", "clip": true, "color": "black", "strokeWidth": 1.7},
     "encoding": {"strokeDash": {"field": "c", "type": "nominal", "scale": {"domain": ["0","1","2","3","4","5"], "range": [[6,4],[1,0],[1,0],[1,0],[1,0],[1,0]]}, "legend": null}}},
    {"data": {"name": "notes"}, "transform": [{"filter": "datum.p === 'c' && datum.k === 'arrow'"}], "mark": {"type": "rule", "color": "black", "strokeWidth": 1.8}, "encoding": {"x2": {"field": "x2"}}},
    {"data": {"name": "notes"}, "transform": [{"filter": "datum.p === 'c' && datum.k === 'head'"}], "mark": {"type": "point", "filled": true, "color": "black", "opacity": 1, "size": 60},
     "encoding": {"shape": {"field": "dir", "type": "nominal", "scale": {"domain": ["L","R"], "range": ["triangle-left","triangle-right"]}, "legend": null}}},
    {"data": {"name": "notes"}, "transform": [{"filter": "datum.p === 'c' && datum.k === 'panel'"}], "mark": {"type": "text", "font": "Liberation Sans", "fontWeight": "bold", "fontSize": 18, "color": "black"}, "encoding": {"text": {"field": "txt"}}},
    {"data": {"name": "notes"}, "transform": [{"filter": "datum.p === 'c' && datum.k === 'tag'"}], "mark": {"type": "text", "font": "Liberation Sans", "fontWeight": "bold", "fontSize": 14, "align": "right", "color": "black"}, "encoding": {"text": {"field": "txt"}}},
    {"data": {"name": "notes"}, "transform": [{"filter": "datum.p === 'c' && datum.k === 'hf'"}], "mark": {"type": "text", "font": "Liberation Sans", "fontWeight": "bold", "fontSize": 15, "color": "black"}, "encoding": {"text": {"field": "txt"}}}
   ]
  },
  {
   "width": 257, "height": 184,
   "encoding": {
    "x": {"field": "x", "type": "quantitative", "scale": {"domain": [-30.32, -28.42], "nice": false, "zero": false}, "axis": {"values": [-30, -29.5, -29, -28.5], "labelExpr": "(datum.value < 0 ? '-' : '') + format(abs(datum.value), '.1f')", "title": "GATE VOLTAGE\u00a0\u00a0(mV)", "titlePadding": 2}},
    "y": {"field": "y", "type": "quantitative", "scale": {"domain": [-150, 150], "nice": false, "zero": false}, "axis": {"values": [-100, 0, 100], "labelExpr": "(datum.value < 0 ? '-' : '') + format(abs(datum.value), 'd')", "title": "\u2202I/\u2202Vg\u00a0\u00a0(pA/mV)", "titleX": -36, "titleY": 66, "titleBaseline": "middle"}}
   },
   "layer": [
    {"data": {"name": "curves"}, "transform": [{"filter": "datum.p === 'b'"}], "mark": {"type": "line", "interpolate": "monotone", "clip": true, "color": "black", "strokeWidth": 1.7},
     "encoding": {"strokeDash": {"field": "c", "type": "nominal", "scale": {"domain": ["0","1","2","3","4","5"], "range": [[6,4],[1,0],[1,0],[1,0],[1,0],[1,0]]}, "legend": null}}},
    {"data": {"name": "notes"}, "transform": [{"filter": "datum.p === 'b' && datum.k === 'arrow'"}], "mark": {"type": "rule", "color": "black", "strokeWidth": 1.8}, "encoding": {"x2": {"field": "x2"}}},
    {"data": {"name": "notes"}, "transform": [{"filter": "datum.p === 'b' && datum.k === 'head'"}], "mark": {"type": "point", "filled": true, "color": "black", "opacity": 1, "size": 60},
     "encoding": {"shape": {"field": "dir", "type": "nominal", "scale": {"domain": ["L","R"], "range": ["triangle-left","triangle-right"]}, "legend": null}}},
    {"data": {"name": "notes"}, "transform": [{"filter": "datum.p === 'b' && datum.k === 'panel'"}], "mark": {"type": "text", "font": "Liberation Sans", "fontWeight": "bold", "fontSize": 18, "color": "black"}, "encoding": {"text": {"field": "txt"}}},
    {"data": {"name": "notes"}, "transform": [{"filter": "datum.p === 'b' && datum.k === 'hf'"}], "mark": {"type": "text", "font": "Liberation Sans", "fontWeight": "bold", "fontSize": 15, "color": "black"}, "encoding": {"text": {"field": "txt"}}}
   ]
  },
  {
   "width": 251, "height": 184,
   "encoding": {
    "x": {"field": "x", "type": "quantitative", "scale": {"domain": [-3.728, -1.526], "nice": false, "zero": false}, "axis": {"values": [-3.5, -3, -2.5, -2], "labelExpr": "(datum.value < 0 ? '-' : '') + format(abs(datum.value), '.1f')", "title": "GATE VOLTAGE\u00a0\u00a0(arb.units)", "titlePadding": 2}},
    "y": {"field": "y", "type": "quantitative", "scale": {"domain": [-156.7, 151.7], "nice": false, "zero": false}, "axis": {"ticks": false, "labels": false, "title": "\u2202I/\u2202Vg\u00a0\u00a0(arb. units)", "titleX": -19, "titleY": 76, "titleBaseline": "middle"}}
   },
   "layer": [
    {"data": {"name": "curves"}, "transform": [{"filter": "datum.p === 'd'"}], "mark": {"type": "line", "interpolate": "monotone", "clip": true, "color": "black", "strokeWidth": 1.7},
     "encoding": {"strokeDash": {"field": "c", "type": "nominal", "scale": {"domain": ["0","1","2","3","4","5"], "range": [[6,4],[1,0],[1,0],[1,0],[1,0],[1,0]]}, "legend": null}}},
    {"data": {"name": "notes"}, "transform": [{"filter": "datum.p === 'd' && datum.k === 'arrow'"}], "mark": {"type": "rule", "color": "black", "strokeWidth": 1.8}, "encoding": {"x2": {"field": "x2"}}},
    {"data": {"name": "notes"}, "transform": [{"filter": "datum.p === 'd' && datum.k === 'head'"}], "mark": {"type": "point", "filled": true, "color": "black", "opacity": 1, "size": 60},
     "encoding": {"shape": {"field": "dir", "type": "nominal", "scale": {"domain": ["L","R"], "range": ["triangle-left","triangle-right"]}, "legend": null}}},
    {"data": {"name": "notes"}, "transform": [{"filter": "datum.p === 'd' && datum.k === 'panel'"}], "mark": {"type": "text", "font": "Liberation Sans", "fontWeight": "bold", "fontSize": 18, "color": "black"}, "encoding": {"text": {"field": "txt"}}},
    {"data": {"name": "notes"}, "transform": [{"filter": "datum.p === 'd' && datum.k === 'hf'"}], "mark": {"type": "text", "font": "Liberation Sans", "fontWeight": "bold", "fontSize": 15, "color": "black"}, "encoding": {"text": {"field": "txt"}}}
   ]
  }
 ]
}
